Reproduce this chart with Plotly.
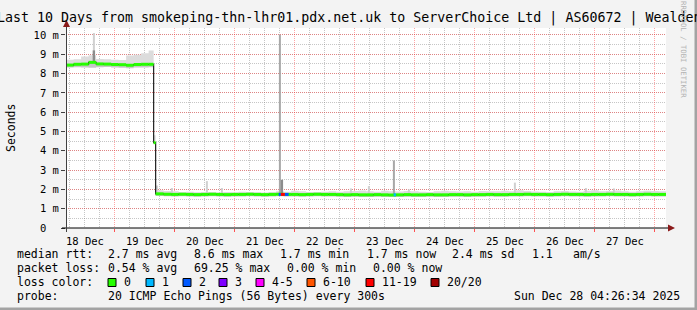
import plotly.graph_objects as go
import pandas as pd

# ---------------- data ----------------
# bin start times, hours after 2025-12-18 00:00
bin_hours = [4.44, 7.5, 10.5, 13.5, 16.5, 19.5, 22.5, 25.5, 28.5, 31.5, 34.5, 37.5,
             39.5, 40.3] + [43.5 + 3 * i for i in range(67)]
end_hour = 244.44

median_ms = [8.44, 8.48, 8.49, 8.58, 8.50, 8.49, 8.47, 8.46, 8.43, 8.47, 8.48, 8.48,
             4.42,
             1.77, 1.75, 1.74, 1.75, 1.74, 1.73, 1.74, 1.75, 1.74, 1.73, 1.74, 1.74,
             1.75, 1.74, 1.73, 1.74, 1.75, 1.74, 1.74, 1.73, 1.74, 1.75, 1.74, 1.74,
             1.73, 1.72, 1.73, 1.72, 1.72, 1.73, 1.72, 1.71, 1.72, 1.73, 1.72, 1.72,
             1.73, 1.72, 1.72, 1.73, 1.73, 1.72, 1.73, 1.73, 1.74, 1.73, 1.73,
             1.74, 1.74, 1.75, 1.74, 1.74, 1.73, 1.74, 1.75, 1.74, 1.74, 1.73, 1.74,
             1.74, 1.75, 1.74, 1.74, 1.73, 1.74, 1.75, 1.74, 1.74]

smoke_lo_ms = [8.32, 8.33, 8.32, 8.30, 8.33, 8.34, 8.31, 8.30, 8.28, 8.31, 8.32, 8.33,
               4.35,
               1.66, 1.64, 1.63, 1.64, 1.63, 1.62, 1.63, 1.64, 1.63, 1.62, 1.63, 1.63,
               1.64, 1.63, 1.62, 1.63, 1.64, 1.63, 1.63, 1.62, 1.63, 1.64, 1.63, 1.63,
               1.62, 1.61, 1.62, 1.61, 1.61, 1.62, 1.61, 1.60, 1.61, 1.62, 1.61, 1.61,
               1.62, 1.61, 1.61, 1.62, 1.62, 1.61, 1.62, 1.62, 1.63, 1.62, 1.62,
               1.63, 1.63, 1.64, 1.63, 1.63, 1.62, 1.63, 1.64, 1.63, 1.63, 1.62, 1.63,
               1.63, 1.64, 1.63, 1.63, 1.62, 1.63, 1.64, 1.63, 1.63]

smoke_hi_ms = [8.72, 8.74, 8.88, 8.95, 8.76, 8.74, 8.72, 8.70, 8.93, 8.98, 9.05, 9.20,
               4.80,
               1.95, 1.92, 1.90, 1.86, 1.88, 1.85, 1.87, 1.86, 1.84, 1.86, 1.85, 1.88,
               1.86, 1.85, 1.84, 1.87, 1.90, 1.88, 1.93, 1.90, 1.87, 1.86, 1.88, 1.90,
               1.88, 1.90, 1.92, 1.94, 1.90, 1.88, 1.93, 1.91, 1.89, 1.92, 1.90, 1.88,
               1.86, 1.90, 1.93, 1.91, 1.89, 1.90, 1.88, 1.92, 1.90, 1.91, 1.93,
               1.90, 1.96, 1.92, 1.89, 1.88, 1.86, 1.90, 1.92, 1.89, 1.88, 1.93, 1.95,
               1.90, 1.92, 1.94, 1.90, 1.88, 1.90, 1.93, 1.92, 1.91]

# isolated ping spikes
spike_hours = [15.6, 15.6, 40.8, 46.8, 60.8, 66.8, 90.0, 90.8, 118.4, 125.6, 135.6, 141.6, 184.0, 212.4, 223.6]
spike_base_ms = [8.58, 8.58, 1.77, 1.74, 1.73, 1.74, 1.74, 1.74, 1.72, 1.72, 1.72, 1.73, 1.74, 1.74, 1.74]
spike_top_ms = [10.1, 9.2, 2.2, 2.07, 2.43, 2.07, 10.0, 2.5, 2.05, 2.17, 3.5, 2.0, 2.35, 2.07, 2.05]
spike_shade = ["light", "dark", "light", "light", "light", "light", "mid", "dark",
               "light", "light", "mid", "light", "light", "light", "light"]

# median segments drawn with a packet-loss colour
loss_start_h = [89.5, 90.4, 92.0, 135.5]
loss_end_h = [90.4, 92.0, 93.5, 136.4]
loss_ms = [1.74, 1.74, 1.74, 1.72]
loss_bucket = ["2", "11-19", "2", "1"]

loss_legend_labels = ["0", "1", "2", "3", "4-5", "6-10", "11-19", "20/20"]
loss_legend_colors = ["#26ff00", "#00b8ff", "#0059ff", "#7e00ff", "#ff00ff", "#ff5500", "#ff0000", "#a10000"]

y_tick_vals = [0, 1, 2, 3, 4, 5, 6, 7, 8, 9, 10]
y_tick_text = ["0\u00a0\u00a0", "1 m", "2 m", "3 m", "4 m", "5 m", "6 m", "7 m", "8 m", "9 m", "10 m"]

title_text = "Last 10 Days from smokeping-thn-lhr01.pdx.net.uk to ServerChoice Ltd | AS60672 | Wealden"
row1 = ["median rtt:", "2.7 ms avg", "8.6 ms max", "1.7 ms min", "1.7 ms now", "2.4 ms sd", "1.1", "am/s"]
row2 = ["packet loss:", "0.54 % avg", "69.25 % max", "0.00 % min", "0.00 % now"]
row3_label = "loss color:"
row4 = ["probe:", "20 ICMP Echo Pings (56 Bytes) every 300s", "Sun Dec 28 04:26:34 2025"]

# ---------------- layout helpers ----------------
W, H = 697, 310
ML, MR, MT, MB = 66, 31, 28, 82
PW, PH = W - ML - MR, H - MT - MB
YMAX = 10.36
MONO = "DejaVu Sans Mono"


def px(x):
    return (x - ML) / PW


def py(y):
    return (H - MB - y) / PH


T0 = pd.Timestamp("2025-12-18 00:00:00")
T_START = pd.Timestamp("2025-12-18 04:26:34")
T_END = pd.Timestamp("2025-12-28 04:26:34")


def at(h):
    return T0 + pd.Timedelta(hours=h)


edges = [at(h) for h in bin_hours] + [at(end_hour)]
step = lambda v: list(v) + [v[-1]]

fig = go.Figure()

# smoke: lower band (lo -> median) and upper band (median -> hi)
fig.add_trace(go.Scatter(x=edges, y=step(smoke_lo_ms), mode="lines", line=dict(width=0, shape="hv"),
                         hoverinfo="skip", showlegend=False))
fig.add_trace(go.Scatter(x=edges, y=step(median_ms), mode="lines", line=dict(width=0, shape="hv"),
                         fill="tonexty", fillcolor="#c6c6c6", hoverinfo="skip", showlegend=False))
fig.add_trace(go.Scatter(x=edges, y=step(smoke_hi_ms), mode="lines", line=dict(width=0, shape="hv"),
                         fill="tonexty", fillcolor="#dcdcdc", hoverinfo="skip", showlegend=False))

shade_style = {"light": ("#d0d0d0", 2.0), "mid": ("#a8a8a8", 2.0), "dark": ("#8c8c8c", 2.4)}
for shade in ["light", "mid", "dark"]:
    xs, ys = [], []
    for h, b, t, s in zip(spike_hours, spike_base_ms, spike_top_ms, spike_shade):
        if s == shade:
            xs += [at(h), at(h), None]
            ys += [b, t, None]
    col, wid = shade_style[shade]
    fig.add_trace(go.Scatter(x=xs, y=ys, mode="lines", line=dict(color=col, width=wid),
                             hoverinfo="skip", showlegend=False))

# black median step line (shows the vertical transitions)
fig.add_trace(go.Scatter(x=edges, y=step(median_ms), mode="lines",
                         line=dict(color="#202020", width=1.2, shape="hv"),
                         hoverinfo="skip", showlegend=False))

# green (0 loss) horizontal median pieces
gx, gy = [], []
for i, v in enumerate(median_ms):
    gx += [edges[i], edges[i + 1], None]
    gy += [v, v, None]
fig.add_trace(go.Scatter(x=gx, y=gy, mode="lines", line=dict(color=loss_legend_colors[0], width=3),
                         hoverinfo="skip", showlegend=False))

color_of = dict(zip(loss_legend_labels, loss_legend_colors))
for s, e, v, bk in zip(loss_start_h, loss_end_h, loss_ms, loss_bucket):
    fig.add_trace(go.Scatter(x=[at(s), at(e)], y=[v, v], mode="lines",
                             line=dict(color=color_of[bk], width=3),
                             hoverinfo="skip", showlegend=False))

shapes = []
# axes with arrows
shapes.append(dict(type="line", xref="paper", yref="paper", x0=px(62), x1=px(670), y0=py(228), y1=py(228),
                   line=dict(color="#000000", width=1)))
shapes.append(dict(type="path", xref="paper", yref="paper",
                   path=f"M {px(668)} {py(224.5)} L {px(675)} {py(228)} L {px(668)} {py(231.5)} Z",
                   fillcolor="#8b1a1a", line=dict(width=0)))
shapes.append(dict(type="line", xref="paper", yref="paper", x0=px(66.5), x1=px(66.5), y0=py(232), y1=py(25),
                   line=dict(color="#404040", width=1)))
shapes.append(dict(type="path", xref="paper", yref="paper",
                   path=f"M {px(63)} {py(27)} L {px(66.5)} {py(20)} L {px(70)} {py(27)} Z",
                   fillcolor="#8b1a1a", line=dict(width=0)))
# frame shade
shapes.append(dict(type="rect", xref="paper", yref="paper", x0=px(694.5), x1=px(699), y0=py(312), y1=py(-2),
                   fillcolor="#a3a3a3", line=dict(width=0)))
shapes.append(dict(type="rect", xref="paper", yref="paper", x0=px(-2), x1=px(699), y0=py(312), y1=py(307.5),
                   fillcolor="#a3a3a3", line=dict(width=0)))

# legend swatches
swatch_x = [108, 146, 183, 219, 256, 307, 366, 431]
label_x = [123, 161, 198, 234, 271, 322, 381, 446]
for sx, col in zip(swatch_x, loss_legend_colors):
    shapes.append(dict(type="rect", xref="paper", yref="paper", x0=px(sx), x1=px(sx + 8),
                       y0=py(286.5), y1=py(278.5), fillcolor=col, line=dict(color="#000000", width=1)))

annotations = []


def txt(s, x, y, size=11.5, color="#000000", anchor="left", angle=0):
    annotations.append(dict(text=s, x=px(x), y=py(y), xref="paper", yref="paper", showarrow=False,
                            xanchor=anchor, yanchor="middle", borderpad=0, textangle=angle,
                            font=dict(family=MONO, size=size, color=color)))


txt(title_text, -4.5, 18.5, size=13.3)
txt("Seconds", 11, 128, size=11.5, anchor="center", angle=-90)
txt("RRDTOOL / TOBI OETIKER", 684, 49, size=7.3, color="#b4b4b4", anchor="center", angle=90)

row1_x = [16, 107.3, 193.3, 279.3, 366, 450.7, 531, 572.3]
for s, x in zip(row1, row1_x):
    txt(s, x, 254.3)
row2_x = [16, 107.3, 193.3, 286, 372.3]
for s, x in zip(row2, row2_x):
    txt(s, x, 268.3)
txt(row3_label, 16, 282.3)
for s, x in zip(loss_legend_labels, label_x):
    txt(s, x, 282.3)
row4_x = [16, 107.3, 513.3]
for s, x in zip(row4, row4_x):
    txt(s, x, 296.3)

RED_GRID = "rgba(255,40,40,0.42)"
GRAY_GRID = "rgba(120,120,120,0.42)"

fig.update_layout(
    width=W, height=H,
    margin=dict(l=ML, r=MR, t=MT, b=MB, pad=0, autoexpand=False),
    paper_bgcolor="#f3f3f3", plot_bgcolor="#ffffff",
    showlegend=False, hovermode=False,
    shapes=shapes, annotations=annotations,
    xaxis=dict(type="date", range=[T_START, T_END], tick0="2025-12-18", dtick=86400000,
               ticklabelmode="period", tickformat="%d %b",
               showgrid=True, gridcolor=RED_GRID, griddash="1px,1px", gridwidth=1,
               ticks="outside", ticklen=3, tickcolor="#ff5050",
               tickfont=dict(family=MONO, size=10.5, color="#000000"),
               showline=False, zeroline=False, fixedrange=True,
               minor=dict(dtick=21600000, tick0="2025-12-18", showgrid=True, gridcolor=GRAY_GRID,
                          griddash="1px,1px", gridwidth=1)),
    yaxis=dict(range=[0, YMAX], tickmode="array", tickvals=y_tick_vals, ticktext=y_tick_text,
               showgrid=True, gridcolor=RED_GRID, griddash="1px,1px", gridwidth=1,
               ticks="outside", ticklen=4, tickcolor="#404040",
               tickfont=dict(family=MONO, size=10.5, color="#000000"),
               showline=False, zeroline=False, fixedrange=True,
               minor=dict(dtick=0.5, tick0=0, showgrid=True, gridcolor=GRAY_GRID,
                          griddash="1px,1px", gridwidth=1)),
)

fig.write_html("out.html", config={"displayModeBar": False, "staticPlot": True})
